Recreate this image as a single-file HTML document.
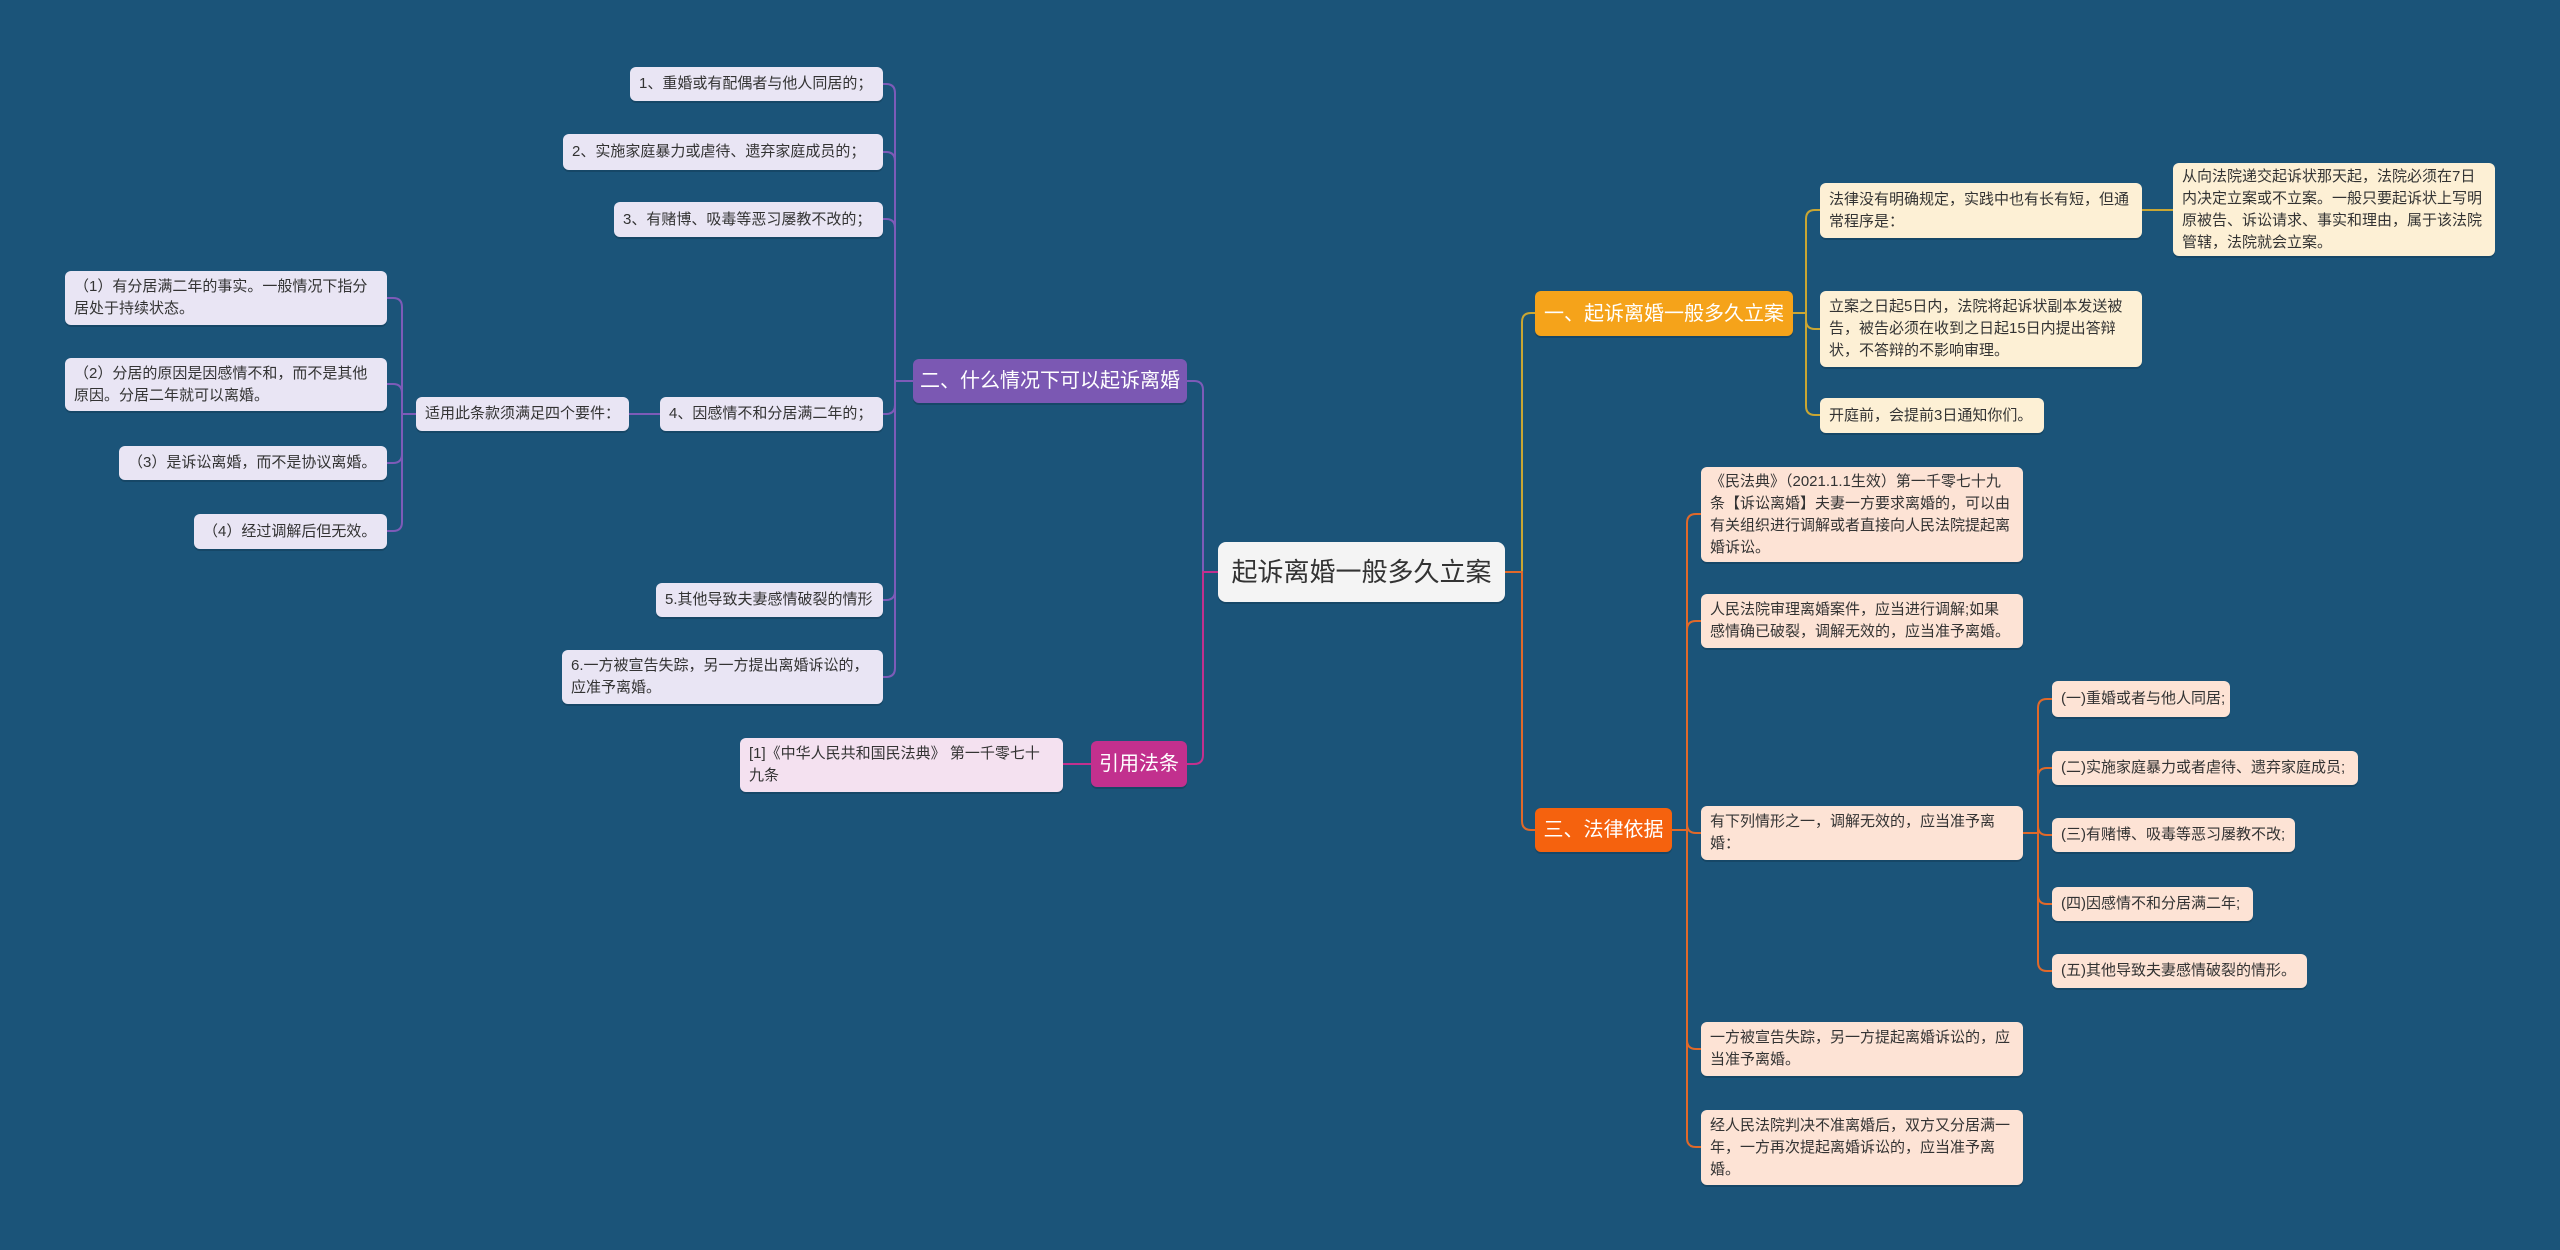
<!DOCTYPE html>
<html><head><meta charset="utf-8"><style>
body{margin:0;width:2560px;height:1250px;background:#1b5479;position:relative;overflow:hidden;font-family:"Liberation Sans","Noto Sans CJK SC",sans-serif;}
.n{position:absolute;box-sizing:border-box;border-radius:6px;font-size:15px;line-height:22px;color:#333;padding:4px 9px;display:flex;align-items:center;box-shadow:0 2px 0 rgba(0,0,0,.15);}
.w{white-space:nowrap}
.p{background:#e9e5f4}.c{background:#fdf0d5}.k{background:#fde3d5}.m{background:#f4e1f0}
.b{color:#fff;font-size:20px;justify-content:center;border-radius:6px;white-space:nowrap;padding:0;}
svg{position:absolute;left:0;top:0}
</style></head><body>
<svg id="s" width="2560" height="1250"></svg>
<div class="n p w" style="left:630px;top:67px;width:253px;height:34px">1、重婚或有配偶者与他人同居的；</div>
<div class="n p w" style="left:563px;top:134px;width:320px;height:36px">2、实施家庭暴力或虐待、遗弃家庭成员的；</div>
<div class="n p w" style="left:614px;top:202px;width:269px;height:35px">3、有赌博、吸毒等恶习屡教不改的；</div>
<div class="n p" style="left:65px;top:271px;width:322px;height:54px">（1）有分居满二年的事实。一般情况下指分居处于持续状态。</div>
<div class="n p" style="left:65px;top:358px;width:322px;height:53px">（2）分居的原因是因感情不和，而不是其他原因。分居二年就可以离婚。</div>
<div class="n p w" style="left:119px;top:446px;width:268px;height:34px">（3）是诉讼离婚，而不是协议离婚。</div>
<div class="n p w" style="left:194px;top:514px;width:193px;height:35px">（4）经过调解后但无效。</div>
<div class="n p w" style="left:416px;top:397px;width:213px;height:34px">适用此条款须满足四个要件：</div>
<div class="n p w" style="left:660px;top:397px;width:223px;height:34px">4、因感情不和分居满二年的；</div>
<div class="n p w" style="left:656px;top:583px;width:227px;height:34px">5.其他导致夫妻感情破裂的情形</div>
<div class="n p" style="left:562px;top:650px;width:321px;height:54px">6.一方被宣告失踪，另一方提出离婚诉讼的，应准予离婚。</div>
<div class="n b" style="left:913px;top:359px;width:274px;height:44px;background:#7b58b3">二、什么情况下可以起诉离婚</div>
<div class="n b" style="left:1091px;top:741px;width:96px;height:46px;background:#c2308e">引用法条</div>
<div class="n m" style="left:740px;top:738px;width:323px;height:54px">[1]《中华人民共和国民法典》 第一千零七十九条</div>
<div class="n w" style="left:1218px;top:542px;width:287px;height:60px;background:#f4f4f4;font-size:26px;justify-content:center;border-radius:8px;padding:0">起诉离婚一般多久立案</div>
<div class="n b" style="left:1535px;top:291px;width:258px;height:45px;background:#f5a31a">一、起诉离婚一般多久立案</div>
<div class="n c" style="left:1820px;top:183px;width:322px;height:55px">法律没有明确规定，实践中也有长有短，但通常程序是：</div>
<div class="n c" style="left:2173px;top:163px;width:322px;height:93px">从向法院递交起诉状那天起，法院必须在7日内决定立案或不立案。一般只要起诉状上写明原被告、诉讼请求、事实和理由，属于该法院管辖，法院就会立案。</div>
<div class="n c" style="left:1820px;top:291px;width:322px;height:76px">立案之日起5日内，法院将起诉状副本发送被告，被告必须在收到之日起15日内提出答辩状，不答辩的不影响审理。</div>
<div class="n c w" style="left:1820px;top:398px;width:224px;height:35px">开庭前，会提前3日通知你们。</div>
<div class="n b" style="left:1535px;top:808px;width:137px;height:44px;background:#f5620e">三、法律依据</div>
<div class="n k" style="left:1701px;top:467px;width:322px;height:95px">《民法典》（2021.1.1生效）第一千零七十九条【诉讼离婚】夫妻一方要求离婚的，可以由有关组织进行调解或者直接向人民法院提起离婚诉讼。</div>
<div class="n k" style="left:1701px;top:594px;width:322px;height:54px">人民法院审理离婚案件，应当进行调解;如果感情确已破裂，调解无效的，应当准予离婚。</div>
<div class="n k" style="left:1701px;top:806px;width:322px;height:54px">有下列情形之一，调解无效的，应当准予离婚：</div>
<div class="n k w" style="left:2052px;top:681px;width:178px;height:36px">(一)重婚或者与他人同居;</div>
<div class="n k w" style="left:2052px;top:751px;width:306px;height:34px">(二)实施家庭暴力或者虐待、遗弃家庭成员;</div>
<div class="n k w" style="left:2052px;top:818px;width:243px;height:34px">(三)有赌博、吸毒等恶习屡教不改;</div>
<div class="n k w" style="left:2052px;top:887px;width:201px;height:34px">(四)因感情不和分居满二年;</div>
<div class="n k w" style="left:2052px;top:954px;width:255px;height:34px">(五)其他导致夫妻感情破裂的情形。</div>
<div class="n k" style="left:1701px;top:1022px;width:322px;height:54px">一方被宣告失踪，另一方提起离婚诉讼的，应当准予离婚。</div>
<div class="n k" style="left:1701px;top:1110px;width:322px;height:75px">经人民法院判决不准离婚后，双方又分居满一年，一方再次提起离婚诉讼的，应当准予离婚。</div>
<script>
var s=document.getElementById('s'),h='';
function L(x1,y1,xt,x2,y2,c){var r=9,d=x2>xt?1:-1,p='M'+x1+' '+y1+' H'+xt;
if(Math.abs(y2-y1)>1){var sg=y2>y1?1:-1;p+=' V'+(y2-sg*r)+' Q'+xt+' '+y2+' '+(xt+d*r)+' '+y2;}
p+=' H'+x2;h+='<path d="'+p+'" fill="none" stroke="'+c+'" stroke-width="2"/>';}
var P='#7d5bb8';
L(1218,572,1203,1187,381,P);L(1218,572,1203,1187,764,'#c2308e');
h+='<path d="M1203 572 H1522" stroke="#c2308e" stroke-width="2"/>';
[84,152,219,414,600,677].forEach(function(y){L(913,381,895,883,y,P)});
L(629,414,645,660,414,P);
[298,384,463,531].forEach(function(y){L(416,414,402,387,y,P)});
L(1091,764,1075,1063,765,'#c2308e');
var Y='#c9a633';L(1505,572,1522,1535,313,Y);
[210,329,415].forEach(function(y){L(1793,313,1806,1820,y,Y)});
L(2142,210,2158,2173,210,Y);
var O='#e0692a';L(1505,572,1522,1535,830,O);
[514,621,833,1049,1147].forEach(function(y){L(1672,830,1687,1701,y,O)});
[699,768,835,904,971].forEach(function(y){L(2023,833,2038,2052,y,O)});
s.innerHTML=h;
</script>
</body></html>
